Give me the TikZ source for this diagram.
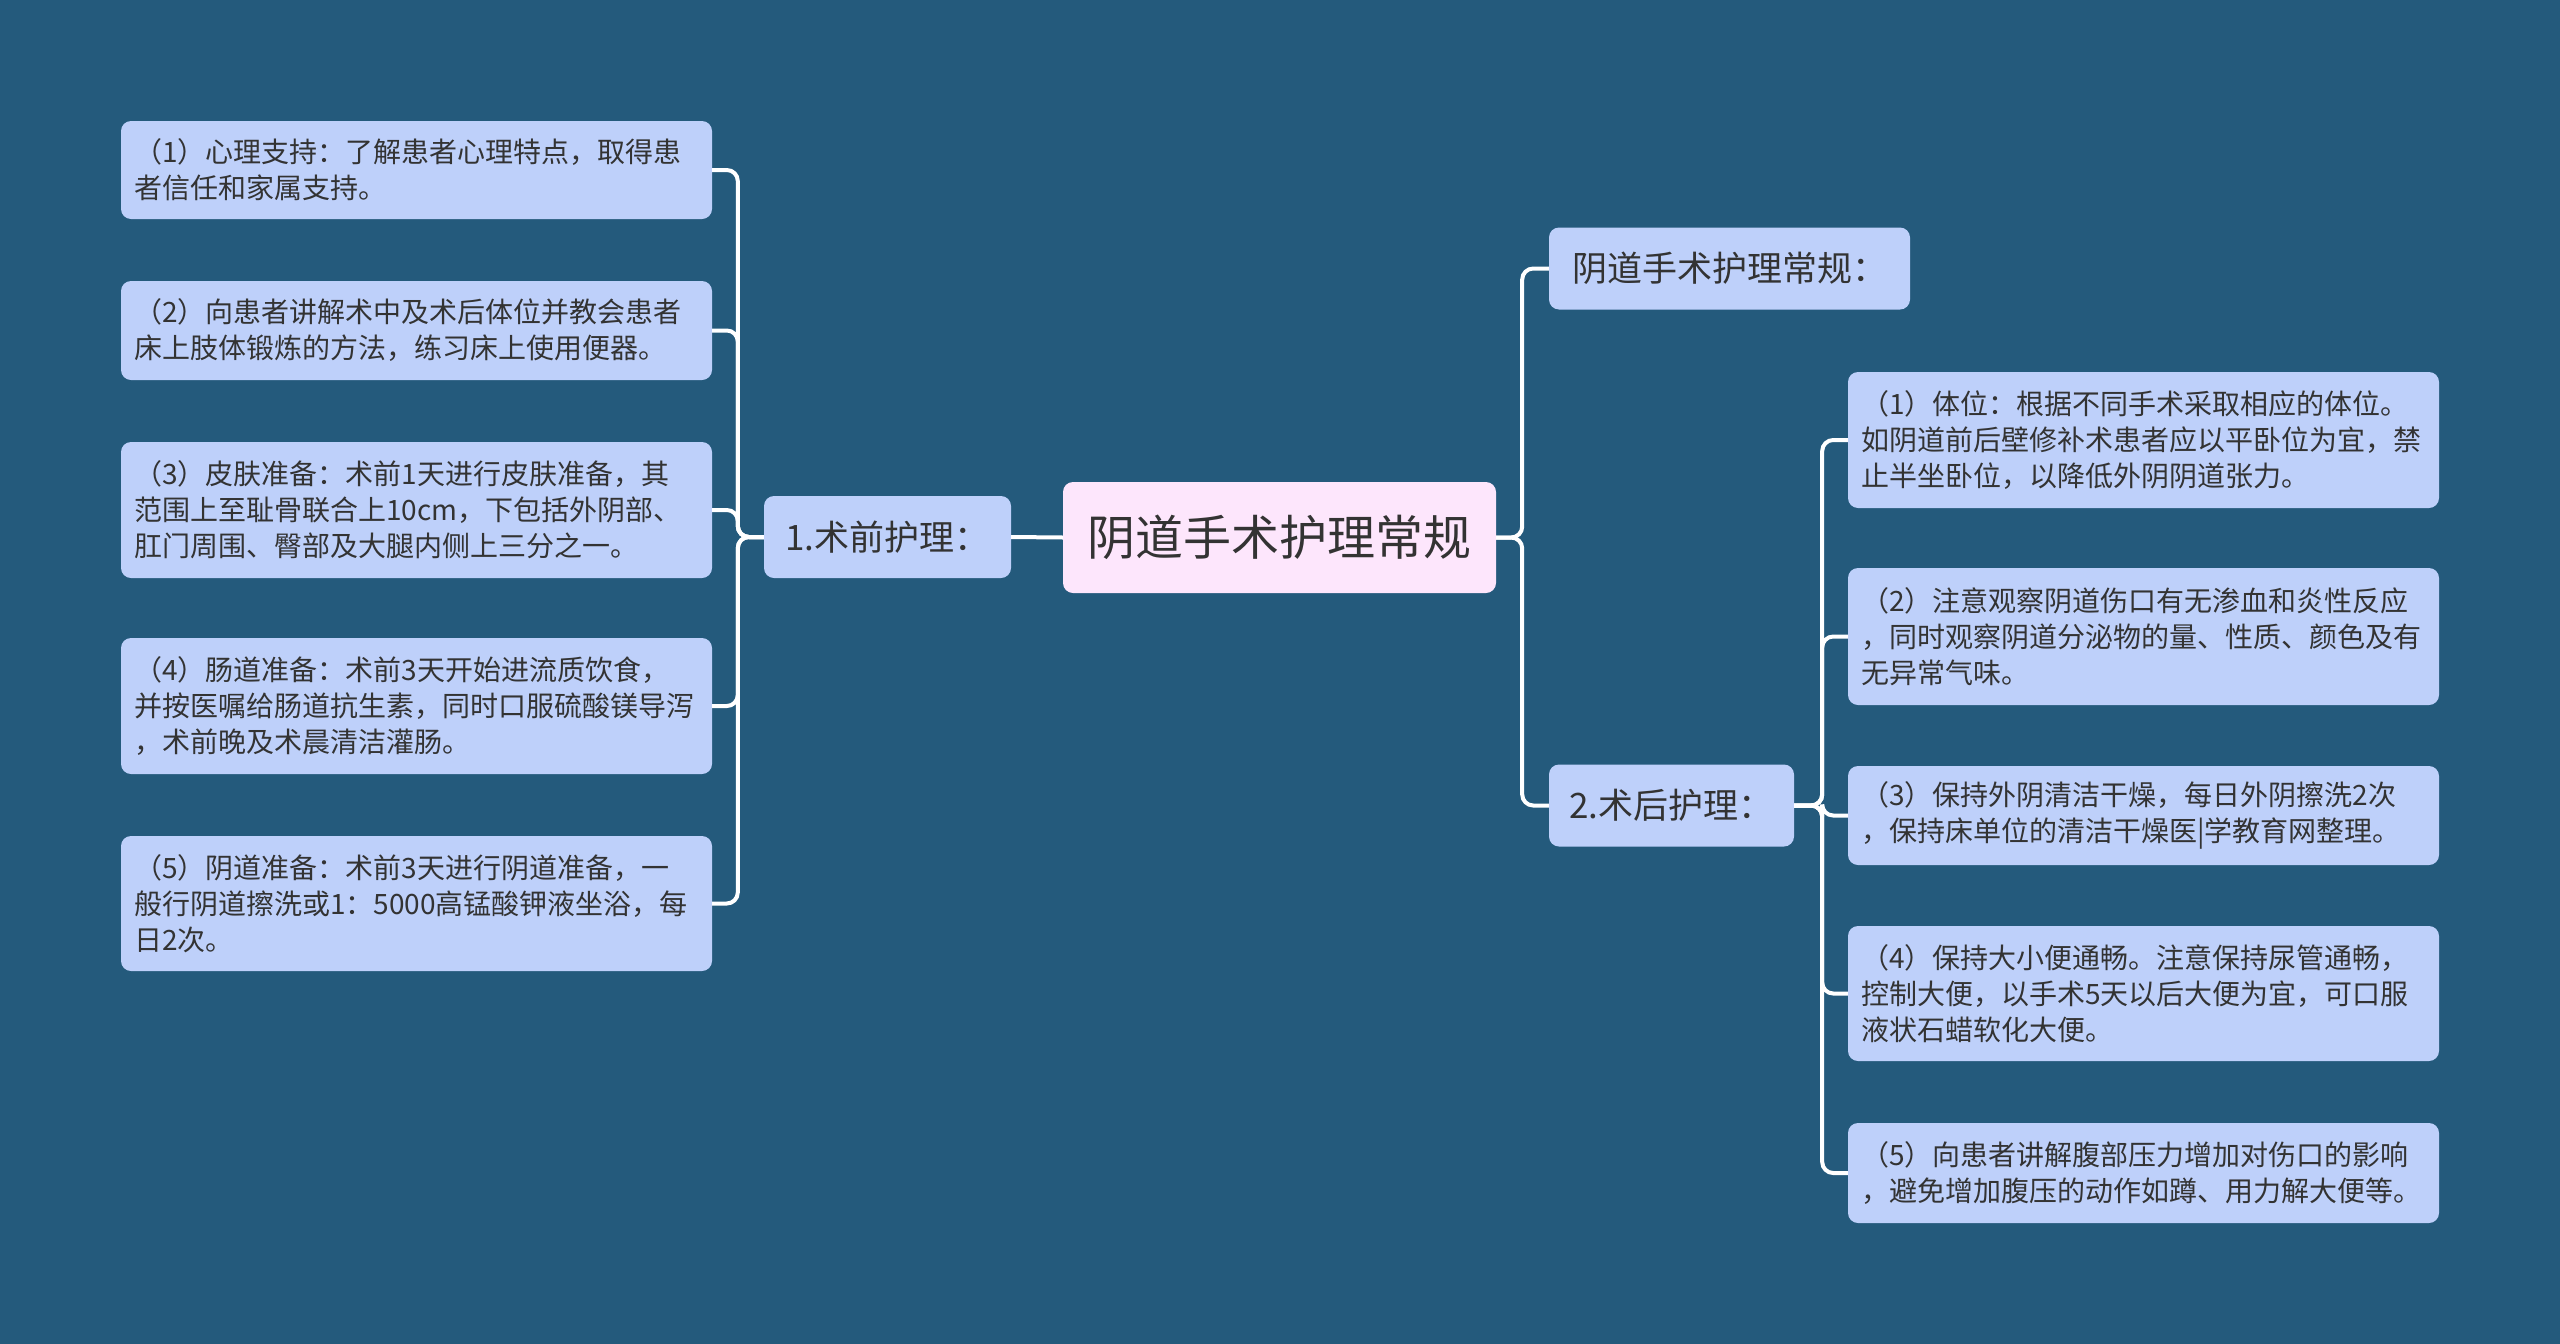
\documentclass[tikz,border=0pt]{standalone}
\usepackage{fontspec}
\setmainfont{Noto Sans CJK SC}
\definecolor{bgblue}{HTML}{245A7C}
\definecolor{leafblue}{HTML}{BED0FA}
\definecolor{rootpink}{HTML}{FDE6FC}
\definecolor{inkgray}{HTML}{333333}
\begin{document}
\begin{tikzpicture}[x=1pt, y=-1pt,
    topic/.style ={rectangle, rounded corners=10pt, fill=rootpink, text=inkgray,
      minimum width=433pt, minimum height=111pt, font=\fontsize{48}{58}\selectfont},
    branch/.style ={rectangle, rounded corners=10pt, fill=leafblue, text=inkgray,
      minimum height=82pt, font=\fontsize{35}{42}\selectfont},
    leaf/.style ={rectangle, rounded corners=10pt, fill=leafblue, text=inkgray,
      text width=565pt, inner xsep=13pt, align=left, minimum width=591pt,
      font=\fontsize{28}{36}\selectfont},
    link/.style ={draw=white, line width=4pt, rounded corners=11pt}]
   \useasboundingbox[fill=bgblue] (0,0) rectangle (2560,1344);
   \node[topic] (root) at (1279.5,537.5) {阴道手术护理常规};
   \node[branch, minimum width=247pt] (pre) at (887.5,537) {1.术前护理：};
   \node[branch, minimum width=361pt] (rule) at (1729.5,268.5) {阴道手术护理常规：};
   \node[branch, minimum width=245pt] (post) at (1671.5,805.5) {2.术后护理：};
   \node[leaf, minimum height=98pt] (l1) at (416.5,170) {（1）心理支持：了解患者心理特点，取得患\\者信任和家属支持。};
   \node[leaf, minimum height=99pt] (l2) at (416.5,330.5) {（2）向患者讲解术中及术后体位并教会患者\\床上肢体锻炼的方法，练习床上使用便器。};
   \node[leaf, minimum height=136pt] (l3) at (416.5,510) {（3）皮肤准备：术前1天进行皮肤准备，其\\范围上至耻骨联合上10cm，下包括外阴部、\\肛门周围、臀部及大腿内侧上三分之一。};
   \node[leaf, minimum height=136pt] (l4) at (416.5,706) {（4）肠道准备：术前3天开始进流质饮食，\\并按医嘱给肠道抗生素，同时口服硫酸镁导泻\\，术前晚及术晨清洁灌肠。};
   \node[leaf, minimum height=135pt] (l5) at (416.5,903.5) {（5）阴道准备：术前3天进行阴道准备，一\\般行阴道擦洗或1：5000高锰酸钾液坐浴，每\\日2次。};
   \node[leaf, minimum height=136pt] (r1) at (2143.5,440) {（1）体位：根据不同手术采取相应的体位。\\如阴道前后壁修补术患者应以平卧位为宜，禁\\止半坐卧位，以降低外阴阴道张力。};
   \node[leaf, minimum height=137pt] (r2) at (2143.5,636.5) {（2）注意观察阴道伤口有无渗血和炎性反应\\，同时观察阴道分泌物的量、性质、颜色及有\\无异常气味。};
   \node[leaf, minimum height=99pt] (r3) at (2143.5,815.5) {（3）保持外阴清洁干燥，每日外阴擦洗2次\\，保持床单位的清洁干燥医|学教育网整理。};
   \node[leaf, minimum height=135pt] (r4) at (2143.5,993.5) {（4）保持大小便通畅。注意保持尿管通畅，\\控制大便，以手术5天以后大便为宜，可口服\\液状石蜡软化大便。};
   \node[leaf, minimum height=100pt] (r5) at (2143.5,1173) {（5）向患者讲解腹部压力增加对伤口的影响\\，避免增加腹压的动作如蹲、用力解大便等。};
   \draw[link] (root.west) to (pre.east);
   \foreach \n in {l1,l2,l3,l4,l5}
      \draw[link] (pre.west) -- ++(-26,0) |- (\n.east);
   \foreach \n in {rule,post}
      \draw[link] (root.east) -- ++(26,0) |- (\n.west);
   \foreach \n in {r1,r2,r3,r4,r5}
      \draw[link] (post.east) -- ++(28,0) |- (\n.west);
 \end{tikzpicture}
\end{document}
